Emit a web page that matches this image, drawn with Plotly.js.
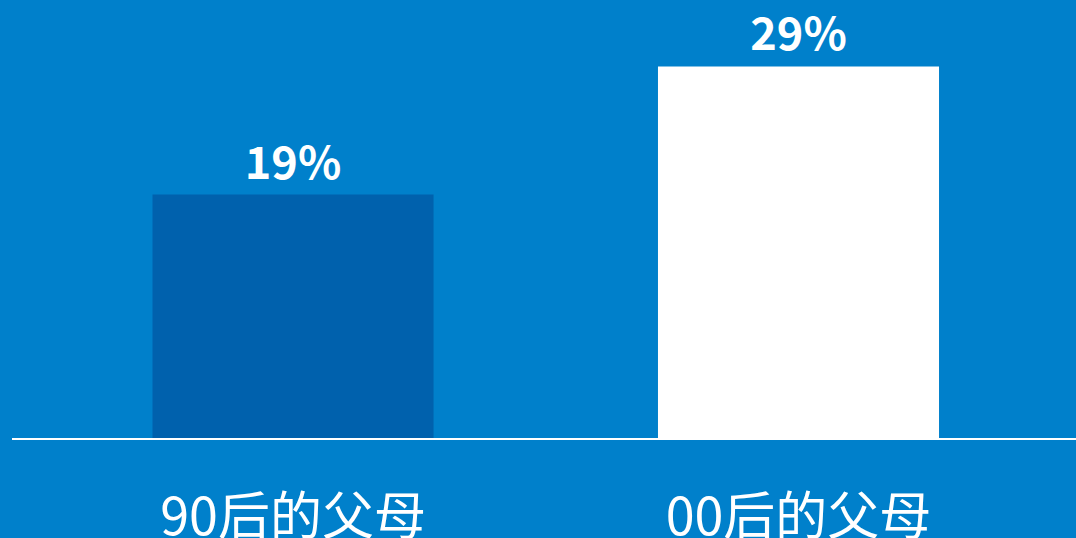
<!DOCTYPE html>
<html>
<head>
<meta charset="utf-8">
<script src="https://cdn.plot.ly/plotly-3.0.1.min.js"></script>
<style>html,body{margin:0;padding:0;background:#0080CB;}#chart{width:1076px;height:538px;}</style>
</head>
<body>
<div id="chart"></div>
<script>
const categories = ["90后的父母", "00后的父母"];
const values = [19, 29];
const labels = ["19%", "29%"];
const barColors = ["#0061AD", "#FFFFFF"];

const trace = {
  type: "bar",
  x: [0, 1],
  y: values,
  text: labels,
  textposition: "outside",
  texttemplate: "<b>%{text}</b>",
  textfont: {family: "Noto Sans CJK SC", size: 45, color: "#FFFFFF"},
  cliponaxis: false,
  width: 0.556,
  marker: {color: barColors, line: {width: 0}},
  hoverinfo: "none"
};

const layout = {
  width: 1076, height: 538,
  paper_bgcolor: "#0080CB",
  plot_bgcolor: "#0080CB",
  margin: {l: 12, r: 0, t: 0, b: 100},
  showlegend: false,
  xaxis: {
    range: [-0.556, 1.549],
    tickmode: "array",
    tickvals: [0, 1],
    ticktext: categories,
    tickfont: {family: "Noto Sans CJK SC", size: 52, color: "#FFFFFF"},
    showline: true, linecolor: "#FFFFFF", linewidth: 2,
    showgrid: false, zeroline: false, ticks: "",
    ticklabelstandoff: 33,
    fixedrange: true
  },
  yaxis: {
    range: [0, 34.19],
    visible: false,
    showgrid: false, zeroline: false,
    fixedrange: true
  }
};

Plotly.newPlot("chart", [trace], layout, {staticPlot: true, displayModeBar: false});
</script>
</body>
</html>
